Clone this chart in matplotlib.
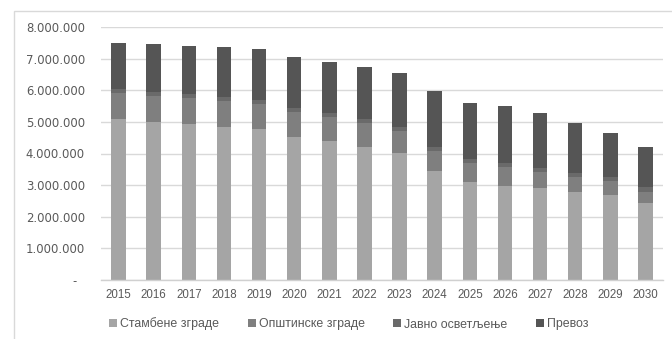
import matplotlib
matplotlib.use("Agg")
import matplotlib.pyplot as plt
from matplotlib.patches import Rectangle
from matplotlib.ticker import FuncFormatter

years = [str(y) for y in range(2015, 2031)]
series_names = ["Стамбене зграде", "Општинске зграде", "Јавно осветљење", "Превоз"]
stambene = [5.08, 5.00, 4.93, 4.85, 4.77, 4.53, 4.40, 4.22, 4.01, 3.46, 3.09, 2.98, 2.90, 2.79, 2.69, 2.44]
opstinske = [0.82, 0.83, 0.82, 0.81, 0.80, 0.79, 0.74, 0.73, 0.70, 0.63, 0.60, 0.58, 0.51, 0.48, 0.44, 0.35]
javno = [0.13, 0.12, 0.14, 0.14, 0.13, 0.13, 0.13, 0.13, 0.13, 0.12, 0.13, 0.13, 0.12, 0.12, 0.12, 0.14]
prevoz = [1.47, 1.51, 1.51, 1.56, 1.60, 1.61, 1.63, 1.66, 1.72, 1.78, 1.77, 1.82, 1.74, 1.56, 1.41, 1.29]
scale = 1_000_000
colors = ["#a5a5a5", "#7f7f7f", "#6a6a6a", "#555555"]

plt.rcParams["font.family"] = ["Liberation Sans", "DejaVu Sans"]
text_color = "#595959"

fig = plt.figure(figsize=(6.72, 3.39), dpi=100)
ax = fig.add_axes([101 / 672, 1 - 280 / 339, 562 / 672, 253 / 339])

x = list(range(len(years)))
bottom = [0.0] * len(years)
handles = []
for name, vals, col in zip(series_names, [stambene, opstinske, javno, prevoz], colors):
    h = ax.bar(x, [v * scale for v in vals], width=0.41, bottom=bottom, color=col,
               label=name, zorder=3)
    handles.append(h)
    bottom = [b + v * scale for b, v in zip(bottom, vals)]

ax.set_xlim(-0.5, len(years) - 0.5)
ax.set_ylim(0, 8 * scale)
ax.set_yticks([i * scale for i in range(9)])


def fmt(v, pos):
    if v == 0:
        return "-  "
    return f"{int(v):,}".replace(",", ".")


ax.yaxis.set_major_formatter(FuncFormatter(fmt))
ax.set_xticks(x)
ax.set_xticklabels(years)
ax.tick_params(axis="both", length=0, colors=text_color)
ax.tick_params(axis="y", pad=11.5)
ax.tick_params(axis="x", pad=6.5)
for lbl in ax.get_yticklabels():
    lbl.set_fontfamily(["DejaVu Sans"])
    lbl.set_fontsize(8.4)
for lbl in ax.get_xticklabels():
    lbl.set_fontsize(8.3)

ax.grid(axis="y", color="#d9d9d9", linewidth=1, zorder=0)
for side in ["top", "right", "left"]:
    ax.spines[side].set_visible(False)
ax.spines["bottom"].set_color("#d0d0d0")
ax.spines["bottom"].set_linewidth(1)
ax.spines["bottom"].set_zorder(4)

# chart area frame
fig.patches.append(Rectangle((13.5 / 672, -0.05), 1.0, 1 - 11 / 339 + 0.05,
                             transform=fig.transFigure, fill=False,
                             edgecolor="#d9d9d9", linewidth=1))

leg = fig.legend(handles=handles, labels=series_names, loc="center",
                 bbox_to_anchor=(349 / 672, 1 - 324 / 339), ncol=4, frameon=False,
                 fontsize=8.9, handlelength=0.65, handleheight=0.65, handletextpad=0.25,
                 columnspacing=2.3, labelcolor=text_color)

fig.savefig("out.png", dpi=100)
